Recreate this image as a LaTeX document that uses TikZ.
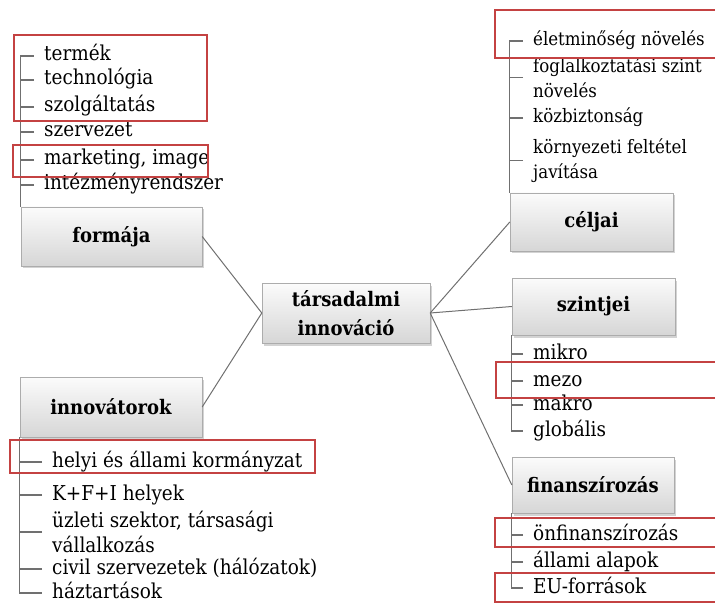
\documentclass[tikz,border=0pt]{standalone}
\usepackage{fontspec}
\setmainfont{DejaVu Serif Condensed}
\usetikzlibrary{shadows}
\definecolor{hl}{RGB}{196,66,66}
\definecolor{wire}{RGB}{112,112,112}
\begin{document}
\begin{tikzpicture}[x=1pt,y=-1pt,
  topic/.style={rectangle, draw=gray!65, top color=gray!3, bottom color=gray!32,
    font=\bfseries\fontsize{20}{29}\selectfont, align=center, inner sep=0pt,
    drop shadow={shadow xshift=2pt, shadow yshift=-2.5pt, opacity=0.35, fill=gray}},
  item/.style={anchor=west, inner xsep=10pt, inner ysep=0pt,
    font=\fontsize{20.5}{25.5}\selectfont, align=left},
  narrow/.style={font=\fontsize{18.5}{25.5}\selectfont},
  one/.style={text height=14pt, text depth=4pt},
  link/.style={draw=wire, line width=1pt},
  tree/.style={draw=wire, line width=1.2pt},
  hlbox/.style={draw=hl, line width=2.2pt}
]
\useasboundingbox (0,0) rectangle (715,604);
\clip (0,0) rectangle (715,604);

% topic boxes
\node[topic, minimum width=181pt, minimum height=59pt] (forma) at (111.5,236.5) {formája};
\node[topic, minimum width=168pt, minimum height=60pt] (core)  at (346,313) {társadalmi\\innováció};
\node[topic, minimum width=182pt, minimum height=60pt] (innov) at (111,407) {innovátorok};
\node[topic, minimum width=163pt, minimum height=58pt] (cel)   at (591.5,222) {céljai};
\node[topic, minimum width=163pt, minimum height=57pt] (szint) at (593.5,306.5) {szintjei};
\node[topic, minimum width=162pt, minimum height=56pt] (fin)   at (593,485) {finanszírozás};

% links from the central box
\draw[link] (core.west) -- (forma.east);
\draw[link] (core.west) -- (innov.east);
\draw[link] (core.east) -- (cel.west);
\draw[link] (core.east) -- (szint.west);
\draw[link] (core.east) -- (fin.west);

% forms
\node[item, one] (t1) at (34,56)  {termék};
\node[item, one] (t2) at (34,80)  {technológia};
\node[item, one] (t3) at (34,107) {szolgáltatás};
\node[item, one] (t4) at (34,132) {szervezet};
\node[item, one] (t5) at (34,160) {marketing, image};
\node[item, one] (t6) at (34,185) {intézményrendszer};
\draw[tree] (forma.north west) |- (t1.west);
\foreach \n in {t2,t3,t4,t5,t6} \draw[tree] (\n.west) -- (\n.west -| forma.north west);

% innovators
\node[item, one] (i1) at (42,462) {helyi és állami kormányzat};
\node[item, one] (i2) at (42,495) {K+F+I helyek};
\node[item]      (i3) at (42,532) {üzleti szektor, társasági\\vállalkozás};
\node[item, one] (i4) at (42,569) {civil szervezetek (hálózatok)};
\node[item, one] (i5) at (42,593) {háztartások};
\draw[tree] (innov.south west) |- (i5.west);
\foreach \n in {i1,i2,i3,i4} \draw[tree] (\n.west) -- (\n.west -| innov.south west);

% goals
\node[item, narrow, one] (c1) at (523,41)    {életminőség növelés};
\node[item, narrow]      (c2) at (523,77.5)  {foglalkoztatási szint\\növelés};
\node[item, narrow, one] (c3) at (523,118)   {közbiztonság};
\node[item, narrow]      (c4) at (523,160.5) {környezeti feltétel\\javítása};
\draw[tree] (cel.north west) |- (c1.west);
\foreach \n in {c2,c3,c4} \draw[tree] (\n.west) -- (\n.west -| cel.north west);

% levels
\node[item, one] (s1) at (523,354) {mikro};
\node[item, one] (s2) at (523,381) {mezo};
\node[item, one] (s3) at (523,405) {makro};
\node[item, one] (s4) at (523,431) {globális};
\draw[tree] (szint.south west) |- (s4.west);
\foreach \n in {s1,s2,s3} \draw[tree] (\n.west) -- (\n.west -| szint.south west);

% financing
\node[item, one] (f1) at (523,535) {önfinanszírozás};
\node[item, one] (f2) at (523,562) {állami alapok};
\node[item, one] (f3) at (523,588) {EU-források};
\draw[tree] (fin.south west) |- (f3.west);
\foreach \n in {f1,f2} \draw[tree] (\n.west) -- (\n.west -| fin.south west);

% highlight frames
\draw[hlbox] (14,35) rectangle (207,121);
\draw[hlbox] (13,145) rectangle (208,177);
\draw[hlbox] (10,440) rectangle (315,473);
\draw[hlbox] (495,10) rectangle (722,58);
\draw[hlbox] (496,362) rectangle (722,398);
\draw[hlbox] (495,518) rectangle (722,547);
\draw[hlbox] (495,573) rectangle (722,602);
\end{tikzpicture}
\end{document}
